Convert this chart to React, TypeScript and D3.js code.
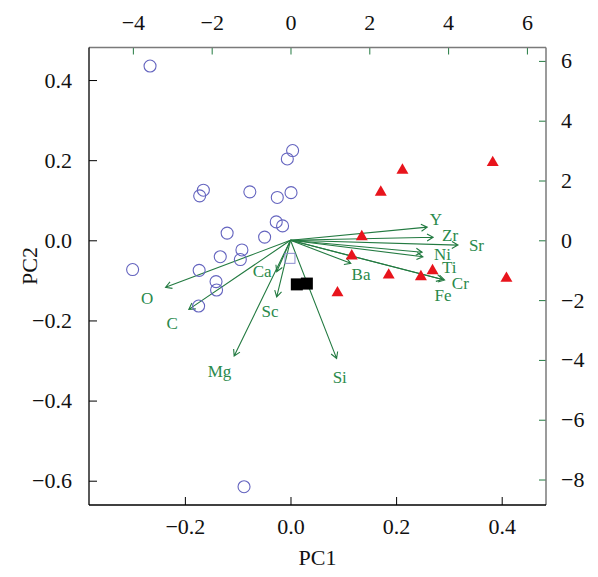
import React, { useRef, useEffect } from "react";
import * as d3 from "d3";

const W = 598;
const H = 577;

// PC scores (PC1, PC2)
const groupCircles: [number, number][] = [
  [-0.266, 0.435], [0.004, 0.224], [-0.006, 0.203], [-0.165, 0.125],
  [-0.172, 0.111], [-0.077, 0.121], [-0.025, 0.107], [0.001, 0.119],
  [-0.027, 0.046], [-0.015, 0.036], [-0.12, 0.018], [-0.049, 0.008],
  [-0.092, -0.024], [-0.133, -0.041], [-0.095, -0.048], [-0.173, -0.075],
  [-0.141, -0.103], [-0.14, -0.124], [-0.174, -0.164], [-0.299, -0.073],
  [-0.088, -0.615],
];
const groupTriangles: [number, number][] = [
  [0.383, 0.194], [0.212, 0.175], [0.171, 0.12], [0.135, 0.009],
  [0.116, -0.039], [0.186, -0.087], [0.247, -0.091], [0.269, -0.076],
  [0.409, -0.095], [0.089, -0.131],
];
const groupOpenSquare: [number, number][] = [[-0.001, -0.045]];
const groupBlackSquares: [number, number][] = [[0.012, -0.11], [0.031, -0.108]];

// loadings on the secondary (top / right) axes: name, arrow tip, label spot
const loadingNames = ["Y", "Zr", "Sr", "Ni", "Ti", "Cr", "Fe", "Ba", "Ca", "Sc", "Mg", "Si", "O", "C"];
const loadingTips: [number, number][] = [
  [3.47, 0.44], [3.62, 0.1], [4.25, -0.16], [3.34, -0.4], [3.36, -0.55],
  [3.91, -1.33], [3.86, -1.31], [1.53, -0.77], [-0.35, -1.05], [-0.35, -1.89],
  [-1.43, -3.87], [1.17, -3.95], [-3.17, -1.57], [-2.58, -2.31],
];
const labelSpots: [number, number][] = [
  [3.69, 0.68], [4.05, 0.15], [4.72, -0.19], [3.86, -0.46], [4.03, -0.9],
  [4.31, -1.44], [3.87, -1.83], [1.79, -1.16], [-0.72, -1.05], [-0.52, -2.39],
  [-1.8, -4.38], [1.25, -4.6], [-3.64, -1.94], [-3.0, -2.78],
];

const xTicks = [-0.2, 0, 0.2, 0.4];
const yTicks = [-0.6, -0.4, -0.2, 0, 0.2, 0.4];
const x2Ticks = [-4, -2, 0, 2, 4, 6];
const y2Ticks = [-8, -6, -4, -2, 0, 2, 4, 6];

const xLim: [number, number] = [-0.3816, 0.4839];
const yLim: [number, number] = [-0.6606, 0.4812];
const ratio = 13.4; // primary -> secondary axis scale

const FONT = "Liberation Serif, Tinos, Times New Roman, Times, serif";
const ARROW = "#237a41";
const LABEL = "#2a8a4c";

function Biplot() {
  const svgRef = useRef<SVGSVGElement>(null);

  useEffect(() => {
    const svg = d3.select(svgRef.current);
    svg.selectAll("*").remove();

    const left = 89, right = 546, top = 47.5, bottom = 505;
    const x = d3.scaleLinear().domain(xLim).range([left, right]);
    const y = d3.scaleLinear().domain(yLim).range([bottom, top]);
    const x2 = d3.scaleLinear().domain(xLim.map((d) => d * ratio)).range([left, right]);
    const y2 = d3.scaleLinear().domain(yLim.map((d) => d * ratio)).range([bottom, top]);

    const fmt = d3.format(".1f");

    const styleAxis = (g: any, col: string) => {
      g.attr("font-family", null).attr("font-size", null);
      g.select(".domain").remove();
      g.selectAll("line").attr("stroke", col).attr("stroke-width", 1);
      g.selectAll("text")
        .style("font-family", FONT)
        .style("font-size", "22px")
        .attr("fill", "#111");
    };

    // primary axes (black, inward ticks)
    svg.append("g")
      .attr("transform", `translate(0,${bottom})`)
      .call(d3.axisBottom(x).tickValues(xTicks).tickFormat(fmt as any).tickSizeInner(-8).tickSizeOuter(0).tickPadding(13))
      .call((g) => styleAxis(g, "#000"));
    svg.append("g")
      .attr("transform", `translate(${left},0)`)
      .call(d3.axisLeft(y).tickValues(yTicks).tickFormat(fmt as any).tickSizeInner(-8).tickSizeOuter(0).tickPadding(17))
      .call((g) => styleAxis(g, "#000"));

    // secondary axes (green ticks)
    svg.append("g")
      .attr("transform", `translate(0,${top})`)
      .call(d3.axisTop(x2).tickValues(x2Ticks).tickFormat(d3.format("d") as any).tickSizeInner(-7).tickSizeOuter(0).tickPadding(17.5))
      .call((g) => styleAxis(g, ARROW));
    svg.append("g")
      .attr("transform", `translate(${right},0)`)
      .call(d3.axisRight(y2).tickValues(y2Ticks).tickFormat(d3.format("d") as any).tickSizeInner(-7).tickSizeOuter(0).tickPadding(15))
      .call((g) => styleAxis(g, ARROW));

    // frame
    svg.append("line").attr("x1", left).attr("x2", right).attr("y1", top).attr("y2", top)
      .attr("stroke", "#7a7a7a").attr("stroke-width", 1.5);
    svg.append("line").attr("x1", right).attr("x2", right).attr("y1", top).attr("y2", bottom)
      .attr("stroke", "#7a7a7a").attr("stroke-width", 1.5);
    svg.append("line").attr("x1", left).attr("x2", right).attr("y1", bottom).attr("y2", bottom)
      .attr("stroke", "#000").attr("stroke-width", 1.3);
    svg.append("line").attr("x1", left).attr("x2", left).attr("y1", top).attr("y2", bottom)
      .attr("stroke", "#000").attr("stroke-width", 1.3);

    // axis titles
    svg.append("text")
      .attr("x", (left + right) / 2).attr("y", 565)
      .attr("text-anchor", "middle")
      .style("font-family", FONT).style("font-size", "22px").attr("fill", "#111")
      .text("PC1");
    svg.append("text")
      .attr("transform", `translate(37,266) rotate(-90)`)
      .attr("text-anchor", "middle")
      .style("font-family", FONT).style("font-size", "22px").attr("fill", "#111")
      .text("PC2");

    // loading arrows
    const ox = x2(0), oy = y2(0);
    const head = 7;
    const arrows = svg.append("g").attr("stroke", ARROW).attr("stroke-width", 1.1).attr("fill", "none");
    loadingTips.forEach(([u, v]) => {
      const tx = x2(u), ty = y2(v);
      const a = Math.atan2(ty - oy, tx - ox);
      const p = d3.path();
      p.moveTo(ox, oy);
      p.lineTo(tx, ty);
      p.moveTo(tx + head * Math.cos(a + Math.PI - Math.PI / 6), ty + head * Math.sin(a + Math.PI - Math.PI / 6));
      p.lineTo(tx, ty);
      p.lineTo(tx + head * Math.cos(a + Math.PI + Math.PI / 6), ty + head * Math.sin(a + Math.PI + Math.PI / 6));
      arrows.append("path").attr("d", p.toString());
    });
    svg.append("g")
      .selectAll("text")
      .data(loadingNames)
      .join("text")
      .attr("x", (d, i) => x2(labelSpots[i][0]))
      .attr("y", (d, i) => y2(labelSpots[i][1]))
      .attr("text-anchor", "middle")
      .attr("dominant-baseline", "central")
      .style("font-family", FONT)
      .style("font-size", "17px")
      .attr("fill", LABEL)
      .text((d) => d);

    // points
    svg.append("g")
      .selectAll("circle")
      .data(groupCircles)
      .join("circle")
      .attr("cx", (d) => x(d[0]))
      .attr("cy", (d) => y(d[1]))
      .attr("r", 6)
      .attr("fill", "none")
      .attr("stroke", "#6464bf")
      .attr("stroke-width", 1.1);

    const tri = d3.symbol().type(d3.symbolTriangle).size(62);
    svg.append("g")
      .selectAll("path")
      .data(groupTriangles)
      .join("path")
      .attr("transform", (d) => `translate(${x(d[0])},${y(d[1])})`)
      .attr("d", tri() as string)
      .attr("fill", "#e8141c");

    svg.append("g")
      .selectAll("rect")
      .data(groupOpenSquare)
      .join("rect")
      .attr("x", (d) => x(d[0]) - 5)
      .attr("y", (d) => y(d[1]) - 5)
      .attr("width", 10)
      .attr("height", 10)
      .attr("fill", "none")
      .attr("stroke", "#8c8cd0")
      .attr("stroke-width", 1);

    svg.append("g")
      .selectAll("rect")
      .data(groupBlackSquares)
      .join("rect")
      .attr("x", (d) => x(d[0]) - 6)
      .attr("y", (d) => y(d[1]) - 6)
      .attr("width", 12)
      .attr("height", 12)
      .attr("fill", "#000");
  }, []);

  return (
    <svg
      ref={svgRef}
      width={W}
      height={H}
      style={{ position: "absolute", left: 0, top: 0, display: "block", background: "#fff" }}
    />
  );
}

export default function App() {
  return <Biplot />;
}
